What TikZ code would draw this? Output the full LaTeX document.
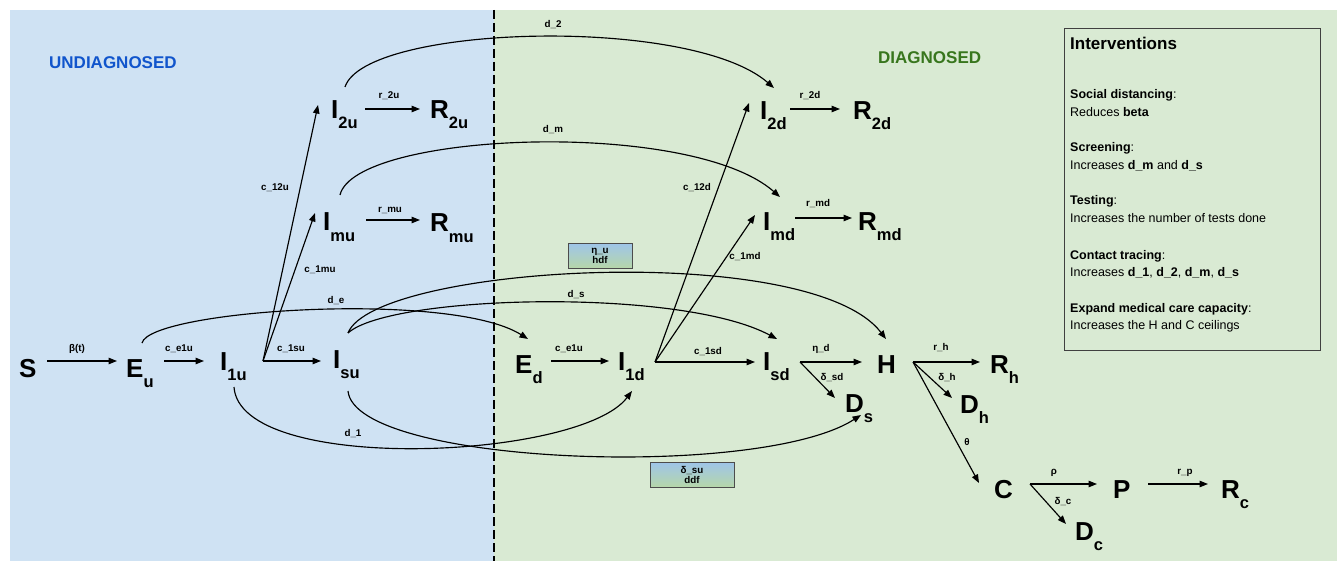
\documentclass[tikz,border=0pt]{standalone}
\usepackage{fontspec}
\setmainfont{Liberation Sans}
\usetikzlibrary{arrows.meta}
\definecolor{bgblue}{HTML}{CFE2F3}
\definecolor{bggreen}{HTML}{D9EAD3}
\definecolor{udblue}{HTML}{1155CC}
\definecolor{dgreen}{HTML}{38761D}
\definecolor{boxtop}{HTML}{9FC5E8}
\definecolor{boxbot}{HTML}{B6D7A8}
\newcommand\cmpt[2]{#1\raisebox{-10pt}{\fontsize{16.5}{16.5}\selectfont #2}}
\begin{document}
\begin{tikzpicture}[x=1pt,y=-1pt,
  comp/.style={anchor=base west,inner sep=0pt,font=\fontsize{26}{26}\selectfont\bfseries},
  lbl/.style={inner sep=0pt,font=\fontsize{9.8}{9.8}\selectfont\bfseries},
  arr/.style={line width=1.15pt,-{Triangle[length=8.5pt,width=6.5pt]}},
  ratebox/.style={draw=black!70,line width=0.8pt,top color=boxtop,bottom color=boxbot,minimum width=64pt,minimum height=25pt,inner sep=1pt,align=center,font=\fontsize{9.8}{10.5}\selectfont\bfseries},
  intv/.style={anchor=base west,inner sep=0pt,font=\fontsize{12.5}{14}\selectfont},
  region/.style={anchor=base west,inner sep=0pt,font=\fontsize{17}{17}\selectfont\bfseries}
]
\useasboundingbox (0,0) rectangle (1337,561);
\fill[bgblue] (10,10) rectangle (494,561);
\fill[bggreen] (494,10) rectangle (1337,561);
\draw[line width=1.2pt,dash pattern=on 9pt off 4pt] (494,10) -- (494,561);

\node[region,text=udblue] (undiag) at (49,69) {UNDIAGNOSED};
\node[region,text=dgreen] (diag) at (878,64) {DIAGNOSED};

% compartments
\node[comp] (S) at (19,377) {S};
\node[comp] (Eu) at (126,377) {\cmpt{E}{u}};
\node[comp] (I1u) at (220,370) {\cmpt{I}{1u}};
\node[comp] (Isu) at (333,368) {\cmpt{I}{su}};
\node[comp] (I2u) at (331,119) {\cmpt{I}{2u}};
\node[comp] (R2u) at (430,119) {\cmpt{R}{2u}};
\node[comp] (Imu) at (323,231) {\cmpt{I}{mu}};
\node[comp] (Rmu) at (430,232) {\cmpt{R}{mu}};
\node[comp] (Ed) at (515,373) {\cmpt{E}{d}};
\node[comp] (I1d) at (618,370) {\cmpt{I}{1d}};
\node[comp] (Isd) at (763,370) {\cmpt{I}{sd}};
\node[comp] (H) at (877,373) {H};
\node[comp] (Ds) at (845,412) {\cmpt{D}{s}};
\node[comp] (I2d) at (760,120) {\cmpt{I}{2d}};
\node[comp] (R2d) at (853,120) {\cmpt{R}{2d}};
\node[comp] (Imd) at (763,230) {\cmpt{I}{md}};
\node[comp] (Rmd) at (858,230) {\cmpt{R}{md}};
\node[comp] (Rh) at (990,373) {\cmpt{R}{h}};
\node[comp] (Dh) at (960,413) {\cmpt{D}{h}};
\node[comp] (C) at (994,498) {C};
\node[comp] (P) at (1113,498) {P};
\node[comp] (Rc) at (1221,498) {\cmpt{R}{c}};
\node[comp] (Dc) at (1075,540) {\cmpt{D}{c}};

% straight flows
\draw[arr] ([shift={(28,-16)}]S.base west) -- ([shift={(-9,-16)}]Eu.base west);
\draw[arr] ([shift={(38,-16)}]Eu.base west) -- ([shift={(-16,-9)}]I1u.base west);
\draw[arr] ([shift={(43,-9)}]I1u.base west) -- ([shift={(-12,-7)}]Isu.base west);
\draw[arr] ([shift={(43,-9)}]I1u.base west) -- ([shift={(-13,-14)}]I2u.base west);
\draw[arr] ([shift={(43,-9)}]I1u.base west) -- ([shift={(-8,-18)}]Imu.base west);
\draw[arr] ([shift={(34,-10)}]I2u.base west) -- ([shift={(-10,-10)}]R2u.base west);
\draw[arr] ([shift={(43,-11)}]Imu.base west) -- ([shift={(-10,-12)}]Rmu.base west);
\draw[arr] ([shift={(30,-11)}]I2d.base west) -- ([shift={(-13,-11)}]R2d.base west);
\draw[arr] ([shift={(32,-12)}]Imd.base west) -- ([shift={(-6,-12)}]Rmd.base west);
\draw[arr] ([shift={(36,-12)}]Ed.base west) -- ([shift={(-9,-9)}]I1d.base west);
\draw[arr] ([shift={(37,-8)}]I1d.base west) -- ([shift={(-8,-8)}]Isd.base west);
\draw[arr] ([shift={(37,-8)}]I1d.base west) -- ([shift={(-11,-17)}]I2d.base west);
\draw[arr] ([shift={(37,-8)}]I1d.base west) -- ([shift={(-8,-15)}]Imd.base west);
\draw[arr] ([shift={(37,-8)}]Isd.base west) -- ([shift={(-15,-11)}]H.base west);
\draw[arr] ([shift={(37,-8)}]Isd.base west) -- ([shift={(-10,-14)}]Ds.base west);
\draw[arr] ([shift={(36,-11)}]H.base west) -- ([shift={(-10,-11)}]Rh.base west);
\draw[arr] ([shift={(36,-11)}]H.base west) -- ([shift={(-8,-15)}]Dh.base west);
\draw[arr] ([shift={(36,-11)}]H.base west) -- ([shift={(-15,-15)}]C.base west);
\draw[arr] ([shift={(36,-14)}]C.base west) -- ([shift={(-16,-14)}]P.base west);
\draw[arr] ([shift={(36,-14)}]C.base west) -- ([shift={(-9,-16)}]Dc.base west);
\draw[arr] ([shift={(35,-14)}]P.base west) -- ([shift={(-13,-14)}]Rc.base west);

% curved diagnosis flows
\draw[arr] ([shift={(14,-32)}]I2u.base west) .. controls (365,25) and (690,15) .. ([shift={(14,-32)}]I2d.base west);
\draw[arr] ([shift={(17,-36)}]Imu.base west) .. controls (355,132) and (690,118) .. ([shift={(17,-33)}]Imd.base west);
\draw[arr] ([shift={(16,-34)}]Eu.base west) .. controls (150,310) and (450,290) .. ([shift={(13,-34)}]Ed.base west);
\draw[arr] ([shift={(15,-35)}]Isu.base west) .. controls (375,265) and (810,240) .. ([shift={(9,-34)}]H.base west);
\draw[arr] ([shift={(15,-35)}]Isu.base west) .. controls (390,295) and (680,287) .. ([shift={(14,-31)}]Isd.base west);
\draw[arr] ([shift={(14,17)}]I1u.base west) .. controls (240,475) and (580,460) .. ([shift={(14,21)}]I1d.base west);
\draw[arr] ([shift={(15,23)}]Isu.base west) .. controls (355,465) and (760,480) .. ([shift={(16,3)}]Ds.base west);

% rate labels
\node[lbl] (lbeta) at (77,349) {β(t)};
\node[lbl] (lce1u) at (179,349) {c\_e1u};
\node[lbl] (lc1su) at (291,349) {c\_1su};
\node[lbl] (lc12u) at (275,188) {c\_12u};
\node[lbl] (lc1mu) at (320,270) {c\_1mu};
\node[lbl] (lr2u) at (389,96) {r\_2u};
\node[lbl] (lrmu) at (390,210) {r\_mu};
\node[lbl] (ld2) at (553,25) {d\_2};
\node[lbl] (ldm) at (553,130) {d\_m};
\node[lbl] (lde) at (336,301) {d\_e};
\node[lbl] (lds) at (576,295) {d\_s};
\node[lbl] (ld1) at (353,434) {d\_1};
\node[lbl] (lr2d) at (810,96) {r\_2d};
\node[lbl] (lrmd) at (818,204) {r\_md};
\node[lbl] (lce1d) at (569,349) {c\_e1u};
\node[lbl] (lc12d) at (697,188) {c\_12d};
\node[lbl] (lc1md) at (745,257) {c\_1md};
\node[lbl] (lc1sd) at (708,352) {c\_1sd};
\node[lbl] (letad) at (821,349) {η\_d};
\node[lbl] (ldsd) at (832,378) {δ\_sd};
\node[lbl] (lrh) at (941,348) {r\_h};
\node[lbl] (ldh) at (947,378) {δ\_h};
\node[lbl] (ltheta) at (967,442) {θ};
\node[lbl] (lrho) at (1054,473) {ρ};
\node[lbl] (ldc) at (1063,502) {δ\_c};
\node[lbl] (lrp) at (1185,473) {r\_p};

\node[ratebox] (hdf) at (600,256) {η\_u\\hdf};
\node[ratebox,minimum width=84pt] (ddf) at (692,475) {δ\_su\\ddf};

% interventions
\node[draw=black!75,line width=0.8pt,anchor=north west,minimum width=256pt,minimum height=322pt,inner sep=0pt] (ibox) at (1064,28) {};
\node[intv,font=\fontsize{17}{17}\selectfont\bfseries] (ititle) at (1070,50) {Interventions};
\node[intv] (i1a) at (1070,99) {\textbf{Social distancing}:};
\node[intv] (i1b) at (1070,117) {Reduces \textbf{beta}};
\node[intv] (i2a) at (1070,152) {\textbf{Screening}:};
\node[intv] (i2b) at (1070,170) {Increases \textbf{d\_m} and \textbf{d\_s}};
\node[intv] (i3a) at (1070,205) {\textbf{Testing}:};
\node[intv] (i3b) at (1070,223) {Increases the number of tests done};
\node[intv] (i4a) at (1070,259) {\textbf{Contact tracing}:};
\node[intv] (i4b) at (1070,276) {Increases \textbf{d\_1}, \textbf{d\_2}, \textbf{d\_m}, \textbf{d\_s}};
\node[intv] (i5a) at (1070,312) {\textbf{Expand medical care capacity}:};
\node[intv] (i5b) at (1070,329) {Increases the H and C ceilings};
\end{tikzpicture}
\end{document}
